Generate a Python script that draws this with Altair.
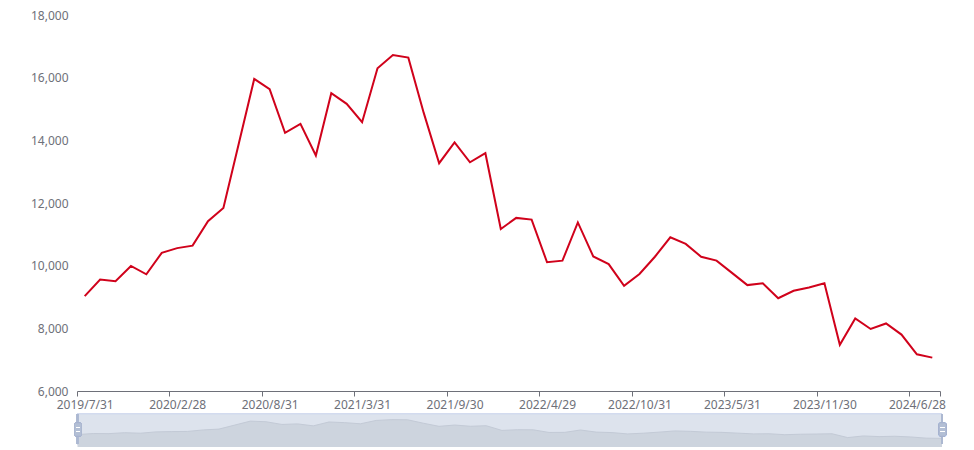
import altair as alt
import pandas as pd

dates = [
    "2019/7/31", "2019/8/30", "2019/9/30", "2019/10/31", "2019/11/29", "2019/12/31",
    "2020/2/28", "2020/3/31", "2020/4/30", "2020/5/29", "2020/6/30", "2020/7/31",
    "2020/8/31", "2020/9/30", "2020/10/30", "2020/11/30", "2020/12/31",
    "2021/2/26", "2021/3/31", "2021/4/30", "2021/5/31", "2021/6/30", "2021/7/30",
    "2021/8/31", "2021/9/30", "2021/10/29", "2021/11/30", "2021/12/31",
    "2022/2/28", "2022/3/31", "2022/4/29", "2022/5/31", "2022/6/30", "2022/7/29",
    "2022/8/31", "2022/9/30", "2022/10/31", "2022/11/30", "2022/12/30",
    "2023/2/28", "2023/3/31", "2023/4/28", "2023/5/31", "2023/6/30", "2023/7/31",
    "2023/8/31", "2023/9/28", "2023/10/31", "2023/11/30", "2023/12/29",
    "2024/2/29", "2024/3/29", "2024/4/30", "2024/5/31", "2024/6/28", "2024/7/31",
]

values = [
    9030, 9560, 9505, 9990, 9725, 10410,
    10560, 10640, 11420, 11840, 13900, 15960,
    15630, 14240, 14525, 13515, 15505,
    15165, 14580, 16300, 16725, 16640, 14875,
    13270, 13935, 13300, 13590, 11170,
    11525, 11470, 10110, 10160, 11380, 10295,
    10050, 9355, 9735, 10285, 10905,
    10695, 10285, 10160, 9770, 9380, 9440,
    8960, 9200, 9305, 9440, 7475,
    8315, 7980, 8155, 7800, 7170, 7065,
]

y_ticks = [6000, 8000, 10000, 12000, 14000, 16000, 18000]
label_step = 6

df = pd.DataFrame({"idx": list(range(len(dates))), "date": dates, "value": values})

n = len(dates)
W, H = 863, 376
TOP = 7
band = W / n
font = "Noto Sans"
axis_color = "#6E7079"

# tick positions at band boundaries, labels shifted to band centers
tick_vals = [i - 0.5 for i in range(0, n, label_step)] + [n - 0.5]
js_dates = "[" + ",".join("'" + d + "'" for d in dates) + "]"
label_expr = f"datum.value > {n - 1} ? '' : {js_dates}[round(datum.value + 0.5)]"

main_line = alt.Chart(df).mark_line(color="#d0021b", strokeWidth=2).encode(
    x=alt.X(
        "idx:Q",
        scale=alt.Scale(domain=[-0.5, n - 0.5], nice=False, zero=False),
        axis=alt.Axis(
            values=tick_vals, title=None, grid=False, labelExpr=label_expr,
            labelOffset=band / 2, labelFlush=False, labelOverlap=False, labelBound=False,
            domainColor=axis_color, tickColor=axis_color, tickSize=5, labelPadding=3,
            labelColor=axis_color, labelFontSize=12, labelFont=font,
        ),
    ),
    y=alt.Y(
        "value:Q",
        scale=alt.Scale(domain=[6000, 18000], nice=False, zero=False),
        axis=alt.Axis(
            values=y_ticks, format=",d", title=None, grid=False, domain=False,
            ticks=False, tickSize=0, labelPadding=9, labelColor=axis_color,
            labelFontSize=12, labelFont=font,
        ),
    ),
)

# dataZoom slider below the plot (page y 414..444, plot top at page y 8+TOP)
off = 8 + TOP
S_TOP, S_BOT = 414 - off, 444 - off
S_LEFT, S_RIGHT = 0.5, 865
H_TOP, H_BOT = 423 - off, 436 - off
vmin, vmax = min(values), max(values)
pad = (vmax - vmin) * 0.3

slider_bg = alt.Chart(df).mark_rect(
    fill="#dde3ed", stroke="#d2dbee", strokeWidth=1
).encode(
    x=alt.value(S_LEFT), x2=alt.value(S_RIGHT), y=alt.value(S_TOP), y2=alt.value(S_BOT)
)

shadow_x = alt.X("idx:Q", scale=alt.Scale(domain=[0, n - 1], range=[S_LEFT, S_RIGHT], nice=False, zero=False), axis=None)
shadow_y = alt.Y("value:Q", scale=alt.Scale(domain=[vmin - pad, vmax + pad], range=[S_BOT, S_TOP], nice=False, zero=False), axis=None)

shadow_area = alt.Chart(df).mark_area(color="#cdd4de", opacity=1).encode(
    x=shadow_x, y=shadow_y, y2=alt.value(S_BOT)
)
shadow_line = alt.Chart(df).mark_line(color="#c3cad6", strokeWidth=1).encode(
    x=shadow_x, y=shadow_y
)

edge_l = alt.Chart(df).mark_rule(color="#acb8d1", strokeWidth=1.5).encode(
    x=alt.value(S_LEFT), y=alt.value(S_TOP), y2=alt.value(S_BOT)
)
edge_r = alt.Chart(df).mark_rule(color="#acb8d1", strokeWidth=1.5).encode(
    x=alt.value(S_RIGHT), y=alt.value(S_TOP), y2=alt.value(S_BOT)
)
handle_l = alt.Chart(df).mark_rect(fill="#b3bfd5", stroke="#a6b3cc", strokeWidth=0.5, cornerRadius=1.5).encode(
    x=alt.value(S_LEFT - 3), x2=alt.value(S_LEFT + 4), y=alt.value(H_TOP), y2=alt.value(H_BOT)
)
handle_r = alt.Chart(df).mark_rect(fill="#b3bfd5", stroke="#a6b3cc", strokeWidth=0.5, cornerRadius=1.5).encode(
    x=alt.value(S_RIGHT - 3), x2=alt.value(S_RIGHT + 4), y=alt.value(H_TOP), y2=alt.value(H_BOT)
)
grip = []
for cx in (S_LEFT + 0.5, S_RIGHT + 0.5):
    for gy in (H_TOP + 4.5, H_TOP + 8.5):
        grip.append(
            alt.Chart(df).mark_rule(color="#ffffff", strokeWidth=1).encode(
                x=alt.value(cx - 2), x2=alt.value(cx + 2), y=alt.value(gy)
            )
        )

chart = alt.layer(
    slider_bg, shadow_area, shadow_line, edge_l, edge_r, handle_l, handle_r, *grip, main_line
).resolve_scale(x="independent", y="independent").properties(
    width=W, height=H,
    autosize=alt.AutoSizeParams(type="none"),
    padding={"left": 69, "top": TOP, "right": 20, "bottom": 56},
).configure(
    background="white",
    view=alt.ViewConfig(stroke=None, strokeWidth=0),
)

chart.save("out.html", embed_options={"renderer": "svg", "actions": False})
